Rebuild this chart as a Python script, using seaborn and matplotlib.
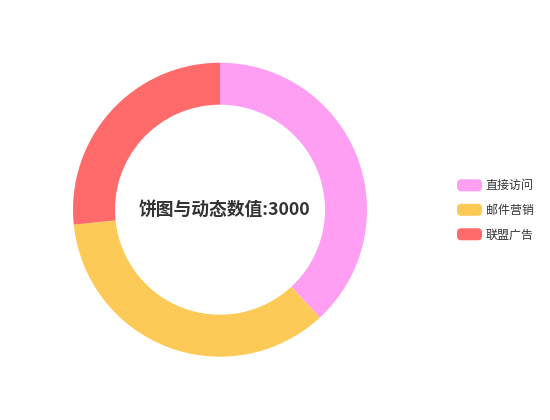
import matplotlib
matplotlib.use('Agg')
import matplotlib.pyplot as plt
import seaborn as sns
from matplotlib.patches import FancyBboxPatch, Wedge
from matplotlib.legend_handler import HandlerPatch

categories = ['直接访问', '邮件营销', '联盟广告']
values = [335, 310, 234]
colors = ['#ff9ff3', '#feca57', '#ff6b6b']
center_label = '饼图与动态数值:3000'

sns.set_theme(style='white')
plt.rcParams['font.family'] = ['Noto Sans CJK SC', 'DejaVu Sans']


def rounded_box(legend, orig_handle, xdescent, ydescent, width, height, fontsize):
    return FancyBboxPatch((-xdescent, -ydescent), width, height,
                          boxstyle='round,pad=0,rounding_size=3')


fig = plt.figure(figsize=(5.5, 4.2), dpi=100)
ax = fig.add_axes([0, 0, 1, 1])

wedges, _ = ax.pie(values, colors=colors, center=(220, 210.3), radius=147,
                   startangle=90, counterclock=False,
                   wedgeprops=dict(width=42, linewidth=0, edgecolor='none'))
ax.set_xlim(0, 550)
ax.set_ylim(0, 420)
ax.axis('off')

ax.text(225, 210.3, center_label, ha='center', va='center',
        fontsize=12.8, fontweight='bold', color='#333333')

leg = ax.legend(wedges, categories, loc='center left',
                bbox_to_anchor=(457 / 550, 1 - 210.3 / 420),
                bbox_transform=fig.transFigure, frameon=False,
                fontsize=8.64, labelcolor='#333333',
                handlelength=25 / 12, handleheight=14 / 12,
                handletextpad=0.3, labelspacing=0.95,
                borderpad=0, borderaxespad=0,
                handler_map={Wedge: HandlerPatch(patch_func=rounded_box)})

fig.savefig('out.png', dpi=100)
